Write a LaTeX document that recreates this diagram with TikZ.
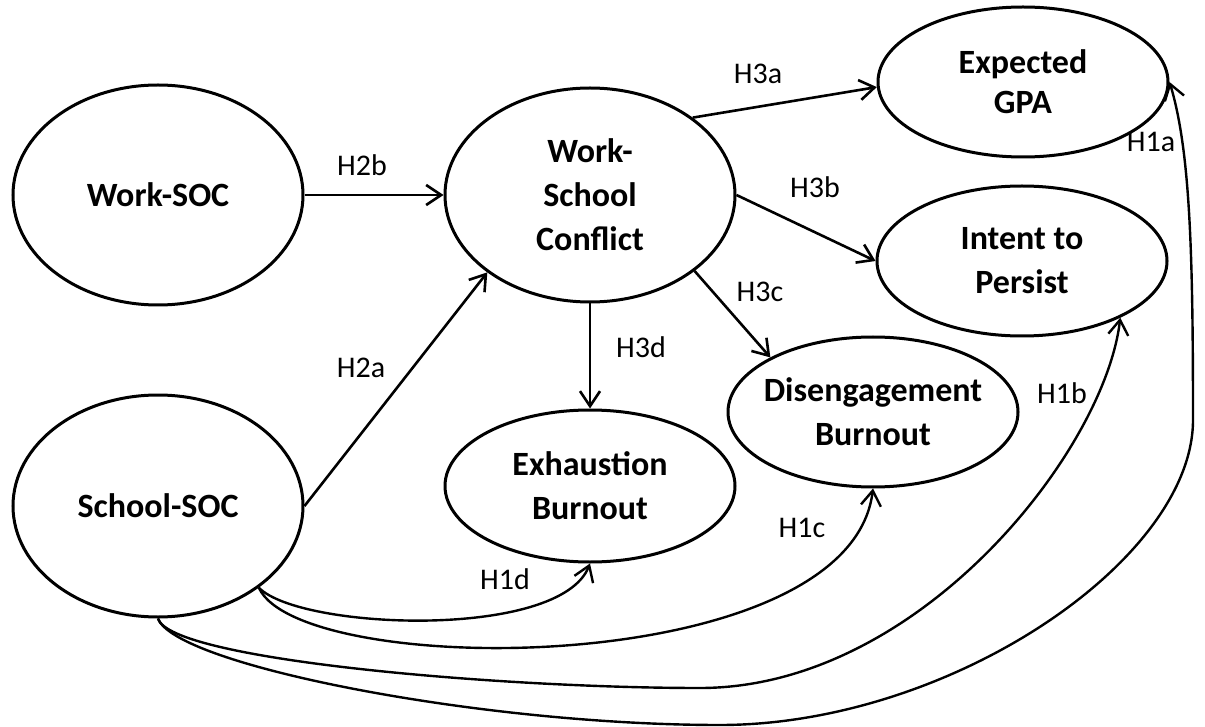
\documentclass[tikz,border=0pt]{standalone}
\usepackage{fontspec}
\setmainfont{Carlito}
\usetikzlibrary{shapes.geometric,arrows.meta}

\begin{document}
\begin{tikzpicture}[x=0.5pt,y=-0.5pt,
    construct/.style={ellipse,draw,line width=1.5pt,inner xsep=-12pt,inner ysep=0pt,
      minimum width=145pt,align=center,font=\fontsize{17}{22}\selectfont\bfseries},
    bigoval/.style={construct,minimum height=110pt},
    smalloval/.style={construct,minimum height=75pt},
    hyp/.style={font=\fontsize{15}{18}\selectfont},
    link/.style={line width=1.3pt,-{Straight Barb[length=7.5pt,width=10pt]}},
    sweep/.style={line width=1.2pt,-{Straight Barb[length=7.5pt,width=10pt]}}]
    \useasboundingbox (0,0) rectangle (1205,727);
    \node[bigoval] (wsoc) at (158,195) {Work-SOC};
    \node[bigoval,minimum height=111pt] (ssoc) at (158,506) {School-SOC};
    \node[bigoval,minimum height=107pt] (wsc) at (590,195) {Work-\\School\\Conflict};
    \node[smalloval,font=\fontsize{17}{20}\selectfont\bfseries] (gpa) at (1023,82) {Expected\\GPA};
    \node[smalloval] (persist) at (1022,261) {Intent to\\Persist};
    \node[smalloval] (diseng) at (873,412) {Disengagement\\Burnout};
    \node[smalloval,minimum height=76pt] (exhaust) at (590,486) {Exhaustion\\Burnout};
    \draw[link] (wsoc.east) -- (wsc.west);
    \draw[link] (ssoc.east) -- (wsc.217);
    \draw[link] (wsc.37) -- (gpa.182);
    \draw[link] (wsc.east) -- (persist.west);
    \draw[link] (wsc.-36) -- (diseng.152);
    \draw[link] (wsc.south) -- (exhaust.north);
    \draw[sweep] (ssoc.-39) .. controls (300,630) and (560,640) .. (exhaust.south);
    \draw[sweep] (ssoc.-39) .. controls (300,680) and (850,680) .. (diseng.south);
    \draw[sweep] (ssoc.south) .. controls (170,660) and (500,688) .. (700,688)
      .. controls (920,688) and (1105,450) .. (persist.-30);
    \draw[sweep] (ssoc.south) .. controls (175,665) and (480,725) .. (720,725)
      .. controls (950,725) and (1193,560) .. (1193,420)
      .. controls (1193,250) and (1190,150) .. (gpa.east);
    \node[hyp] (h2b) at (362,165) {H2b};
    \node[hyp] (h2a) at (361,368) {H2a};
    \node[hyp] (h3a) at (758,74) {H3a};
    \node[hyp] (h3b) at (815,187) {H3b};
    \node[hyp] (h3c) at (760,292) {H3c};
    \node[hyp] (h3d) at (641,347) {H3d};
    \node[hyp] (h1a) at (1151,142) {H1a};
    \node[hyp] (h1b) at (1062,393) {H1b};
    \node[hyp] (h1c) at (802,528) {H1c};
    \node[hyp] (h1d) at (505,579) {H1d};
\end{tikzpicture}
\end{document}
